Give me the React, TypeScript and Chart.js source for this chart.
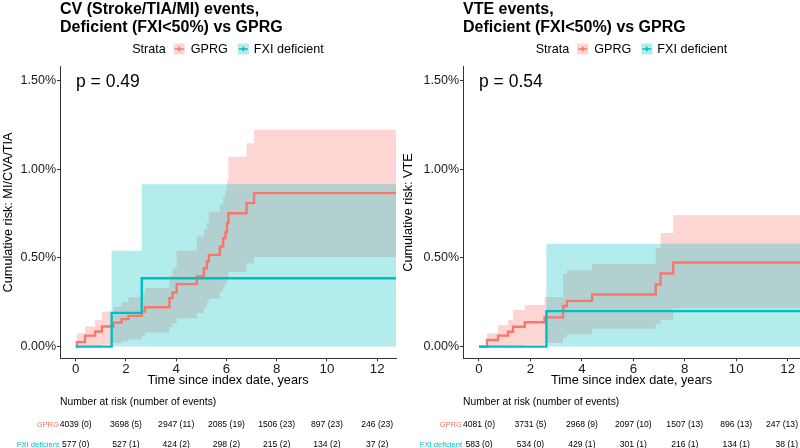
import React, { useEffect, useRef } from "react";
import { Chart, registerables } from "chart.js";

Chart.register(...registerables);

const FONT = "'Liberation Sans', Arial, Helvetica, sans-serif";
Chart.defaults.font.family = FONT;

const RED = "#F8766D";
const CYAN = "#00BFC4";
const RED_BAND = "rgba(248,118,109,0.3)";
const CYAN_BAND = "rgba(0,191,196,0.3)";

// ---------- shared ----------
const timeTicks = [0, 2, 4, 6, 8, 10, 12];
const riskTicks = [0, 0.5, 1.0, 1.5];
const strataNames = ["GPRG", "FXI deficient"];

// ---------- Panel 1: CV (Stroke/TIA/MI) ----------
const cvTitle = ["CV (Stroke/TIA/MI) events,", "Deficient (FXI<50%) vs GPRG"];
const cvYTitle = "Cumulative risk: MI/CVA/TIA";
const cvP = "p = 0.49";
const cvGprgTime = [0, 0.05, 0.37, 0.77, 1.04, 1.5, 1.83, 2.1, 2.63, 2.76, 3.73, 3.86, 4.02, 4.82, 5.1, 5.22, 5.3, 5.74, 5.87, 5.96, 6.02, 6.08, 6.8, 7.1, 12.75];
const cvGprgRisk = [0, 0.025, 0.062, 0.085, 0.113, 0.135, 0.155, 0.173, 0.197, 0.222, 0.273, 0.305, 0.352, 0.395, 0.442, 0.48, 0.517, 0.564, 0.611, 0.645, 0.696, 0.752, 0.809, 0.865, 0.865];
const cvGprgUpper = [0, 0.075, 0.113, 0.15, 0.197, 0.225, 0.25, 0.28, 0.3, 0.33, 0.4, 0.44, 0.54, 0.62, 0.66, 0.7, 0.76, 0.8, 0.846, 0.88, 0.94, 1.07, 1.147, 1.222, 1.222];
const cvGprgLower = [0, 0, 0, 0.003, 0.01, 0.02, 0.03, 0.04, 0.06, 0.08, 0.11, 0.13, 0.16, 0.19, 0.22, 0.25, 0.27, 0.31, 0.34, 0.36, 0.38, 0.42, 0.47, 0.505, 0.505];
const cvFxiTime = [0, 1.43, 2.63, 12.75];
const cvFxiRisk = [0, 0.19, 0.385, 0.385];
const cvFxiUpper = [0, 0.54, 0.915, 0.915];
const cvFxiLower = [0, 0, 0, 0];
const cvGprgAtRisk = ["4039 (0)", "3698 (5)", "2947 (11)", "2085 (19)", "1506 (23)", "897 (23)", "246 (23)"];
const cvFxiAtRisk = ["577 (0)", "527 (1)", "424 (2)", "298 (2)", "215 (2)", "134 (2)", "37 (2)"];

// ---------- Panel 2: VTE ----------
const vteTitle = ["VTE events,", "Deficient (FXI<50%) vs GPRG"];
const vteYTitle = "Cumulative risk: VTE";
const vteP = "p = 0.54";
const vteGprgTime = [0, 0.31, 0.74, 1.13, 1.32, 1.78, 2.55, 3.27, 3.42, 4.4, 6.87, 7.06, 7.55, 12.5];
const vteGprgRisk = [0, 0.037, 0.062, 0.084, 0.112, 0.137, 0.165, 0.229, 0.258, 0.294, 0.35, 0.412, 0.474, 0.474];
const vteGprgUpper = [0, 0.075, 0.122, 0.15, 0.206, 0.234, 0.28, 0.41, 0.43, 0.465, 0.556, 0.64, 0.74, 0.74];
const vteGprgLower = [0, 0, 0, 0, 0.005, 0.01, 0.02, 0.05, 0.07, 0.1, 0.13, 0.15, 0.215, 0.215];
const vteFxiTime = [0, 2.62, 12.5];
const vteFxiRisk = [0, 0.2, 0.2];
const vteFxiUpper = [0, 0.58, 0.58];
const vteFxiLower = [0, 0, 0];
const vteGprgAtRisk = ["4081 (0)", "3731 (5)", "2968 (9)", "2097 (10)", "1507 (13)", "896 (13)", "247 (13)"];
const vteFxiAtRisk = ["583 (0)", "534 (0)", "429 (1)", "301 (1)", "216 (1)", "134 (1)", "38 (1)"];

type Panel = {
  title: string[];
  yTitle: string;
  p: string;
  gT: number[]; gR: number[]; gU: number[]; gL: number[];
  fT: number[]; fR: number[]; fU: number[]; fL: number[];
  gRisk: string[]; fRisk: string[];
  xMin: number; xMax: number; axisW: number; padRight: number;
};

const cvPanel: Panel = {
  title: cvTitle, yTitle: cvYTitle, p: cvP,
  gT: cvGprgTime, gR: cvGprgRisk, gU: cvGprgUpper, gL: cvGprgLower,
  fT: cvFxiTime, fR: cvFxiRisk, fU: cvFxiUpper, fL: cvFxiLower,
  gRisk: cvGprgAtRisk, fRisk: cvFxiAtRisk,
  xMin: -0.625, xMax: 12.75, axisW: 60, padRight: 4,
};

const vtePanel: Panel = {
  title: vteTitle, yTitle: vteYTitle, p: vteP,
  gT: vteGprgTime, gR: vteGprgRisk, gU: vteGprgUpper, gL: vteGprgLower,
  fT: vteFxiTime, fR: vteFxiRisk, fU: vteFxiUpper, fL: vteFxiLower,
  gRisk: vteGprgAtRisk, fRisk: vteFxiAtRisk,
  xMin: -0.622, xMax: 12.48, axisW: 63, padRight: 0,
};

const pts = (t: number[], v: number[]) => t.map((x, i) => ({ x, y: v[i] }));

function decorPlugin(cfg: Panel) {
  return {
    id: "panelDecor",
    afterDraw(chart: any) {
      const { ctx, chartArea, scales } = chart;
      const left = chartArea.left;
      const W = chart.width;
      ctx.save();
      // Title
      ctx.fillStyle = "#000";
      ctx.textAlign = "left";
      ctx.textBaseline = "alphabetic";
      ctx.font = `bold 16px ${FONT}`;
      cfg.title.forEach((line, i) => ctx.fillText(line, left, 14 + i * 18));

      // Legend
      ctx.font = `12.6px ${FONT}`;
      const wS = ctx.measureText("Strata").width;
      const wG = ctx.measureText(strataNames[0]).width;
      const wF = ctx.measureText(strataNames[1]).width;
      const key = 11;
      const total = wS + 8 + key + 6 + wG + 10 + key + 5 + wF;
      let x = (chartArea.left + chartArea.right) / 2 - total / 2;
      const by = 53;
      const cy = 49;
      ctx.fillStyle = "#000";
      ctx.fillText("Strata", x, by);
      x += wS + 8;
      const drawKey = (kx: number, band: string, col: string) => {
        ctx.fillStyle = band;
        ctx.fillRect(kx, cy - 5.5, key, key);
        ctx.strokeStyle = col;
        ctx.lineWidth = 1.5;
        ctx.beginPath();
        ctx.moveTo(kx + 1, cy);
        ctx.lineTo(kx + key - 1, cy);
        ctx.moveTo(kx + key / 2, cy - 2.5);
        ctx.lineTo(kx + key / 2, cy + 2.5);
        ctx.stroke();
      };
      drawKey(x, RED_BAND, RED);
      x += key + 6;
      ctx.fillStyle = "#000";
      ctx.fillText(strataNames[0], x, by);
      x += wG + 10;
      drawKey(x, CYAN_BAND, CYAN);
      x += key + 5;
      ctx.fillStyle = "#000";
      ctx.fillText(strataNames[1], x, by);

      // p-value
      ctx.font = `17.5px ${FONT}`;
      ctx.fillText(cfg.p, left + 16, 86.5);

      // Risk table
      ctx.font = `10.3px ${FONT}`;
      ctx.fillText("Number at risk (number of events)", left, 405);
      const xs = scales.x;
      ctx.font = `8.6px ${FONT}`;
      const put = (txt: string, px: number, y: number) => {
        const w = ctx.measureText(txt).width;
        let cx = px;
        if (cx + w / 2 > W - 2) cx = W - 2 - w / 2;
        ctx.textAlign = "center";
        ctx.fillText(txt, cx, y);
      };
      timeTicks.forEach((t, i) => {
        const px = xs.getPixelForValue(t);
        put(cfg.gRisk[i], px, 427);
        put(cfg.fRisk[i], px, 447);
      });
      ctx.textAlign = "right";
      ctx.font = `7.6px ${FONT}`;
      ctx.fillStyle = RED;
      ctx.fillText(strataNames[0], left - 1, 427);
      ctx.fillStyle = CYAN;
      ctx.fillText(strataNames[1], left - 1, 447);
      ctx.restore();
    },
  };
}

function makeChart(canvas: HTMLCanvasElement, cfg: Panel) {
  const band = (data: any, color: string, fill: any, order: number) => ({
    data,
    fill,
    backgroundColor: color,
    borderColor: "rgba(0,0,0,0)",
    borderWidth: 0,
    pointRadius: 0,
    pointHoverRadius: 0,
    stepped: "before",
    order,
  });
  const line = (data: any, color: string, order: number, label: string) => ({
    label,
    data,
    fill: false,
    borderColor: color,
    backgroundColor: color,
    borderWidth: 2.4,
    pointRadius: 0,
    pointHoverRadius: 0,
    stepped: "before",
    order,
  });
  return new Chart(canvas, {
    type: "line",
    data: {
      datasets: [
        band(pts(cfg.gT, cfg.gU), RED_BAND, "+1", 5),
        band(pts(cfg.gT, cfg.gL), RED_BAND, false, 5),
        band(pts(cfg.fT, cfg.fU), CYAN_BAND, "+1", 4),
        band(pts(cfg.fT, cfg.fL), CYAN_BAND, false, 4),
        line(pts(cfg.gT, cfg.gR), RED, 1, strataNames[0]),
        line(pts(cfg.fT, cfg.fR), CYAN, 0, strataNames[1]),
      ] as any,
    },
    options: {
      animation: false,
      responsive: false,
      maintainAspectRatio: false,
      devicePixelRatio: 1,
      events: [],
      layout: { padding: { top: 66.7, left: 0, right: cfg.padRight, bottom: 57.7 } },
      plugins: {
        legend: { display: false },
        title: { display: false },
        tooltip: { enabled: false },
      },
      scales: {
        x: {
          type: "linear",
          min: cfg.xMin,
          max: cfg.xMax,
          afterBuildTicks: (s: any) => {
            s.ticks = timeTicks.map((v) => ({ value: v }));
          },
          afterFit: (s: any) => {
            s.height = 32;
          },
          ticks: {
            font: { size: 13.3 },
            color: "#1a1a1a",
            padding: 0,
            maxRotation: 0,
            callback: (v: any) => String(v),
          },
          grid: { display: true, drawOnChartArea: false, drawTicks: true, tickLength: 3, color: "#333" },
          border: { display: true, color: "#333", width: 1 },
          title: {
            display: true,
            text: "Time since index date, years",
            font: { size: 12.7 },
            color: "#000",
            padding: { top: 0, bottom: 1.7 },
          },
        },
        y: {
          type: "linear",
          min: -0.066,
          max: 1.578,
          afterBuildTicks: (s: any) => {
            s.ticks = riskTicks.map((v) => ({ value: v }));
          },
          afterFit: (s: any) => {
            s.width = cfg.axisW;
          },
          ticks: {
            font: { size: 12.5 },
            color: "#1a1a1a",
            padding: 1,
            callback: (v: any) => Number(v).toFixed(2) + "%",
          },
          grid: { display: true, drawOnChartArea: false, drawTicks: true, tickLength: 3, color: "#333" },
          border: { display: true, color: "#333", width: 1 },
          title: {
            display: true,
            text: cfg.yTitle,
            font: { size: 12.7 },
            color: "#000",
            padding: { top: 1, bottom: 0 },
          },
        },
      },
    } as any,
    plugins: [decorPlugin(cfg)],
  });
}

export default function App() {
  const leftRef = useRef<HTMLCanvasElement>(null);
  const rightRef = useRef<HTMLCanvasElement>(null);
  useEffect(() => {
    const c1 = makeChart(leftRef.current!, cvPanel);
    const c2 = makeChart(rightRef.current!, vtePanel);
    return () => {
      c1.destroy();
      c2.destroy();
    };
  }, []);
  const cs: React.CSSProperties = { position: "absolute", top: 0, width: 400, height: 448, display: "block" };
  return (
    <div style={{ position: "fixed", left: 0, top: 0, width: 800, height: 448, background: "#fff" }}>
      <canvas ref={leftRef} width={400} height={448} style={{ ...cs, left: 0 }} />
      <canvas ref={rightRef} width={400} height={448} style={{ ...cs, left: 400 }} />
    </div>
  );
}
